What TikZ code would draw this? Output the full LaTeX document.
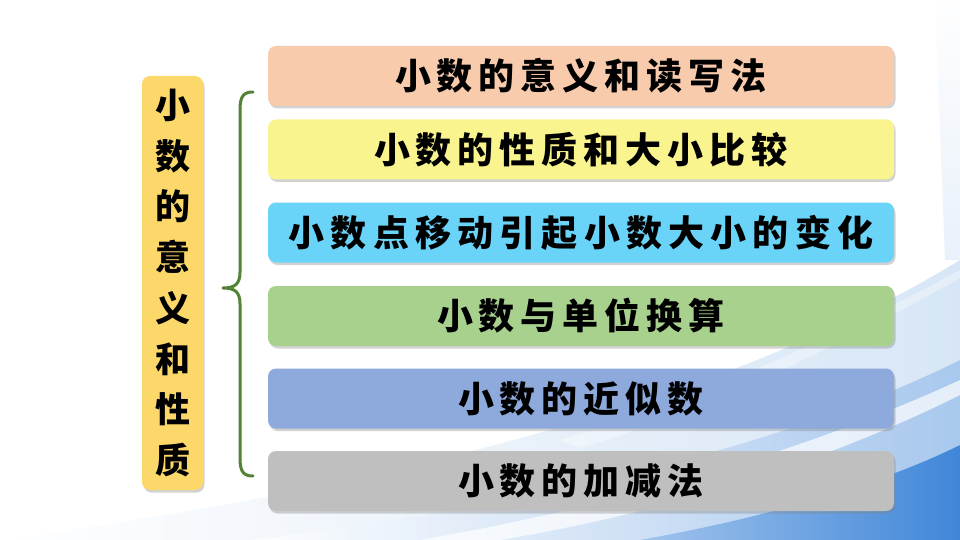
\documentclass[tikz,border=0pt]{standalone}
\usepackage{fontspec}
\newfontfamily\cjk{Noto Sans CJK SC}
\usetikzlibrary{shadows}
\definecolor{cSalmon}{HTML}{F8CBAD}
\definecolor{cYellow}{HTML}{FAF48E}
\definecolor{cCyan}{HTML}{6AD4F8}
\definecolor{cGreen}{HTML}{A9D18E}
\definecolor{cBlue}{HTML}{8EA9DB}
\definecolor{cGrey}{HTML}{BFBFBF}
\definecolor{cGold}{HTML}{FCD86A}
\definecolor{cBrace}{HTML}{548235}
\definecolor{bgBlueA}{HTML}{D3E4F6}
\definecolor{bgBlueM}{HTML}{9DC1EC}
\definecolor{bgBlueB}{HTML}{3580D6}
\newlength\chadv
\def\spreadloop#1{\ifx#1\relax\else\hbox to\chadv{\hss#1\hss}\expandafter\spreadloop\fi}
\newcommand\spread[2]{\chadv=#1\relax\spreadloop#2\relax}
\tikzset{
  topic/.style={rectangle, rounded corners=8pt, minimum width=626pt, minimum height=60pt,
    inner sep=0pt, drop shadow={shadow xshift=1.5pt, shadow yshift=-2.5pt, opacity=0.35}},
  topictext/.style={inner sep=0pt, font=\fontsize{36pt}{40pt}\selectfont\cjk\bfseries, text=black},
  mainbox/.style={rectangle, rounded corners=8pt, fill=cGold, minimum width=61pt, minimum height=414pt,
    inner sep=0pt, drop shadow={shadow xshift=1.5pt, shadow yshift=-2.5pt, opacity=0.35}},
  bracepath/.style={draw=cBrace, line width=3pt, line cap=round, line join=round}
}
\begin{document}
\begin{tikzpicture}[x=1pt,y=-1pt]
\useasboundingbox (0,0) rectangle (960,540);
\fill[white] (0,0) rectangle (960,540);
% background swoosh
\shade[left color=white, right color=bgBlueA, opacity=0.9]
  (0,540) .. controls (300,500) and (700,420) .. (960,260) -- (960,540) -- cycle;
\shade[left color=white, right color=bgBlueM, opacity=0.8]
  (250,540) .. controls (550,505) and (800,440) .. (960,360) -- (960,540) -- cycle;
\fill[white, opacity=0.7]
  (420,540) .. controls (650,500) and (830,440) .. (960,380) -- (960,395) .. controls (840,455) and (680,510) .. (500,540) -- cycle;
\shade[left color=bgBlueM, right color=bgBlueB, opacity=0.9]
  (640,540) .. controls (780,515) and (890,480) .. (960,445) -- (960,540) -- cycle;
\fill[white, opacity=0.35]
  (560,440) .. controls (700,400) and (850,330) .. (960,270) -- (960,278) .. controls (850,340) and (710,410) .. (580,448) -- cycle;
\shade[top color=white, bottom color=bgBlueA, opacity=0.5]
  (935,0) -- (960,0) -- (960,260) -- (945,260) -- cycle;
% left main box
\node[mainbox] (main) at (172.5,283) {};
\node[font=\fontsize{35pt}{50.7pt}\selectfont\cjk\bfseries, align=center, inner sep=0pt] (maintext) at (main.center)
  {小\\数\\的\\意\\义\\和\\性\\质};
% brace
\coordinate (bt) at (253,92);
\coordinate (bm) at (223,288);
\coordinate (bb) at (253,476);
\draw[bracepath] (bt) .. controls (243,92) and (240,97) .. (240,110) -- (240,272)
  .. controls (240,284) and (235,288) .. (bm)
  .. controls (235,288) and (240,292) .. (240,304) -- (240,458)
  .. controls (240,471) and (243,476) .. (bb);
% topic boxes
\node[topic, fill=cSalmon] (t1) at (581,76) {};
\node[topic, fill=cYellow] (t2) at (581,149.5) {};
\node[topic, fill=cCyan] (t3) at (581,232.5) {};
\node[topic, fill=cGreen] (t4) at (581,316) {};
\node[topic, fill=cBlue] (t5) at (581,398.5) {};
\node[topic, fill=cGrey] (t6) at (581,481) {};
\node[topictext] (l1) at (t1.center) {\spread{42pt}{小数的意义和读写法}};
\node[topictext] (l2) at (t2.center) {\spread{42pt}{小数的性质和大小比较}};
\node[topictext] (l3) at (t3.center) {\spread{42.2pt}{小数点移动引起小数大小的变化}};
\node[topictext] (l4) at (t4.center) {\spread{42pt}{小数与单位换算}};
\node[topictext] (l5) at (t5.center) {\spread{42pt}{小数的近似数}};
\node[topictext] (l6) at (t6.center) {\spread{42pt}{小数的加减法}};
\end{tikzpicture}
\end{document}
